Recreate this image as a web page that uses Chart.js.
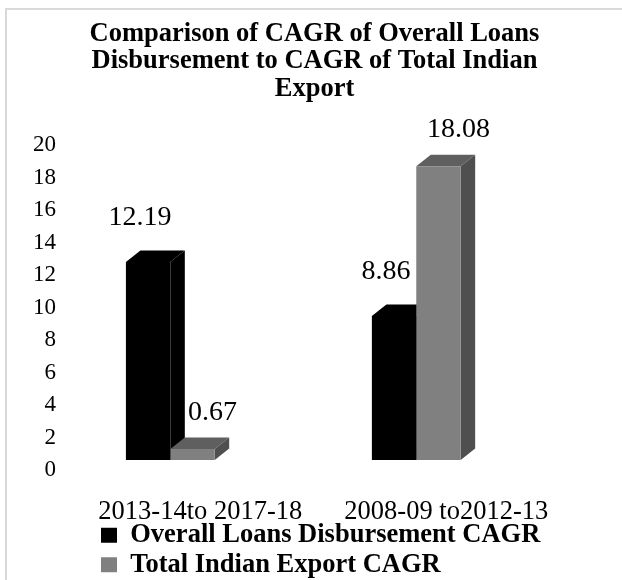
<!DOCTYPE html>
<html>
<head>
<meta charset="utf-8">
<title>CAGR comparison</title>
<script src="https://cdn.jsdelivr.net/npm/chart.js@4.4.1/dist/chart.umd.min.js"></script>
<style>
  body { margin: 0; background: #fff; }
  #wrap {
    position: absolute;
    left: 5px;
    top: 8px;
    width: 615px;
    height: 570px;
    border-left: 2px solid #d9d9d9;
    border-top: 2px solid #d9d9d9;
  }
</style>
</head>
<body>
<div id="wrap"><canvas id="chart"></canvas></div>
<script>
"use strict";

// chart data
let periods = ["2013-14to 2017-18", "2008-09 to2012-13"];
let seriesNames = ["Overall Loans Disbursement CAGR", "Total Indian Export CAGR"];
let loansCagr = [12.19, 8.86];
let exportCagr = [0.67, 18.08];
let yTicks = [0, 2, 4, 6, 8, 10, 12, 14, 16, 18, 20];

let titleLines = [
  "Comparison of CAGR of Overall Loans",
  "Disbursement to CAGR of Total Indian",
  "Export"
];

// look of the fake 3d columns
let depthX = 14.5;
let depthY = 11.5;
let faceColors = [
  { front: "#000000", top: "#000000", side: "#000000" },
  { front: "#808080", top: "#5f5f5f", side: "#4f4f4f" }
];
// where the value labels sit relative to the column top
let labelShift = [
  { x: -8, y: 44.5 },
  { x: 20, y: 36.5 }
];

Chart.defaults.font.family = '"Liberation Serif", "Times New Roman", serif';
Chart.defaults.color = "#000";

function toPoints(values) {
  return values.map((v, i) => ({ x: i, y: v }));
}

// top and right faces go behind the library's front rectangles
let columns3d = {
  id: "columns3d",
  beforeDatasetsDraw(chart) {
    let ctx = chart.ctx;
    ctx.save();
    chart.data.datasets.forEach((ds, di) => {
      let meta = chart.getDatasetMeta(di);
      meta.data.forEach((bar) => {
        let p = bar.getProps(["x", "y", "base", "width"], true);
        let l = p.x - p.width / 2;
        let r = p.x + p.width / 2;

        ctx.fillStyle = faceColors[di].top;
        ctx.beginPath();
        ctx.moveTo(l, p.y);
        ctx.lineTo(l + depthX, p.y - depthY);
        ctx.lineTo(r + depthX, p.y - depthY);
        ctx.lineTo(r, p.y);
        ctx.closePath();
        ctx.fill();

        ctx.fillStyle = faceColors[di].side;
        ctx.beginPath();
        ctx.moveTo(r, p.y);
        ctx.lineTo(r + depthX, p.y - depthY);
        ctx.lineTo(r + depthX, p.base - depthY);
        ctx.lineTo(r, p.base);
        ctx.closePath();
        ctx.fill();
      });
    });
    ctx.restore();
  },
  afterDatasetsDraw(chart) {
    let ctx = chart.ctx;
    ctx.save();
    ctx.font = '28px "Liberation Serif", "Times New Roman", serif';
    ctx.fillStyle = "#000";
    ctx.textAlign = "center";
    ctx.textBaseline = "middle";
    chart.data.datasets.forEach((ds, di) => {
      let meta = chart.getDatasetMeta(di);
      meta.data.forEach((bar, i) => {
        let value = ds.data[i].y;
        ctx.fillText(value.toFixed(2), bar.x + labelShift[di].x, bar.y - labelShift[di].y);
      });
    });
    ctx.restore();
  }
};

// legend rows start under the plot, left aligned
let legendPlace = {
  id: "legendPlace",
  afterLayout(chart) {
    chart.legend.left = 91;
  }
};

let ctx = document.getElementById("chart").getContext("2d");
let myChart = new Chart(ctx, {
  type: "bar",
  data: {
    datasets: [
      {
        label: seriesNames[0],
        data: toPoints(loansCagr),
        backgroundColor: faceColors[0].front,
        categoryPercentage: 0.361,
        barPercentage: 1
      },
      {
        label: seriesNames[1],
        data: toPoints(exportCagr),
        backgroundColor: faceColors[1].front,
        categoryPercentage: 0.361,
        barPercentage: 1
      }
    ]
  },
  options: {
    responsive: true,
    maintainAspectRatio: false,
    animation: false,
    layout: {
      padding: { left: 22, right: 22, top: 0, bottom: -8 }
    },
    plugins: {
      title: {
        display: true,
        text: titleLines,
        color: "#000",
        font: { size: 26.5, weight: "bold", lineHeight: 1.04 },
        padding: { top: 10, bottom: 32.3 }
      },
      legend: {
        position: "bottom",
        align: "start",
        labels: {
          boxWidth: 16,
          boxHeight: 15,
          padding: 3,
          color: "#000",
          font: { size: 26.5, weight: "bold" }
        }
      },
      tooltip: { enabled: false }
    },
    scales: {
      x: {
        type: "linear",
        offset: false,
        min: -0.416,
        max: 1.747,
        bounds: "data",
        grid: { display: false, offset: false },
        border: { display: false },
        afterBuildTicks: (axis) => {
          axis.ticks = periods.map((p, i) => ({ value: i }));
        },
        afterFit: (axis) => {
          axis.height = 59;
        },
        ticks: {
          callback: (value) => periods[value],
          font: { size: 26.5 },
          padding: 28,
          labelOffset: 30,
          maxRotation: 0,
          autoSkip: false,
          color: "#000"
        }
      },
      y: {
        min: yTicks[0],
        max: yTicks[yTicks.length - 1],
        grid: { display: false },
        border: { display: false },
        ticks: {
          stepSize: yTicks[1] - yTicks[0],
          font: { size: 23 },
          padding: 4,
          labelOffset: 10,
          color: "#000"
        }
      }
    }
  },
  plugins: [columns3d, legendPlace]
});
</script>
</body>
</html>
